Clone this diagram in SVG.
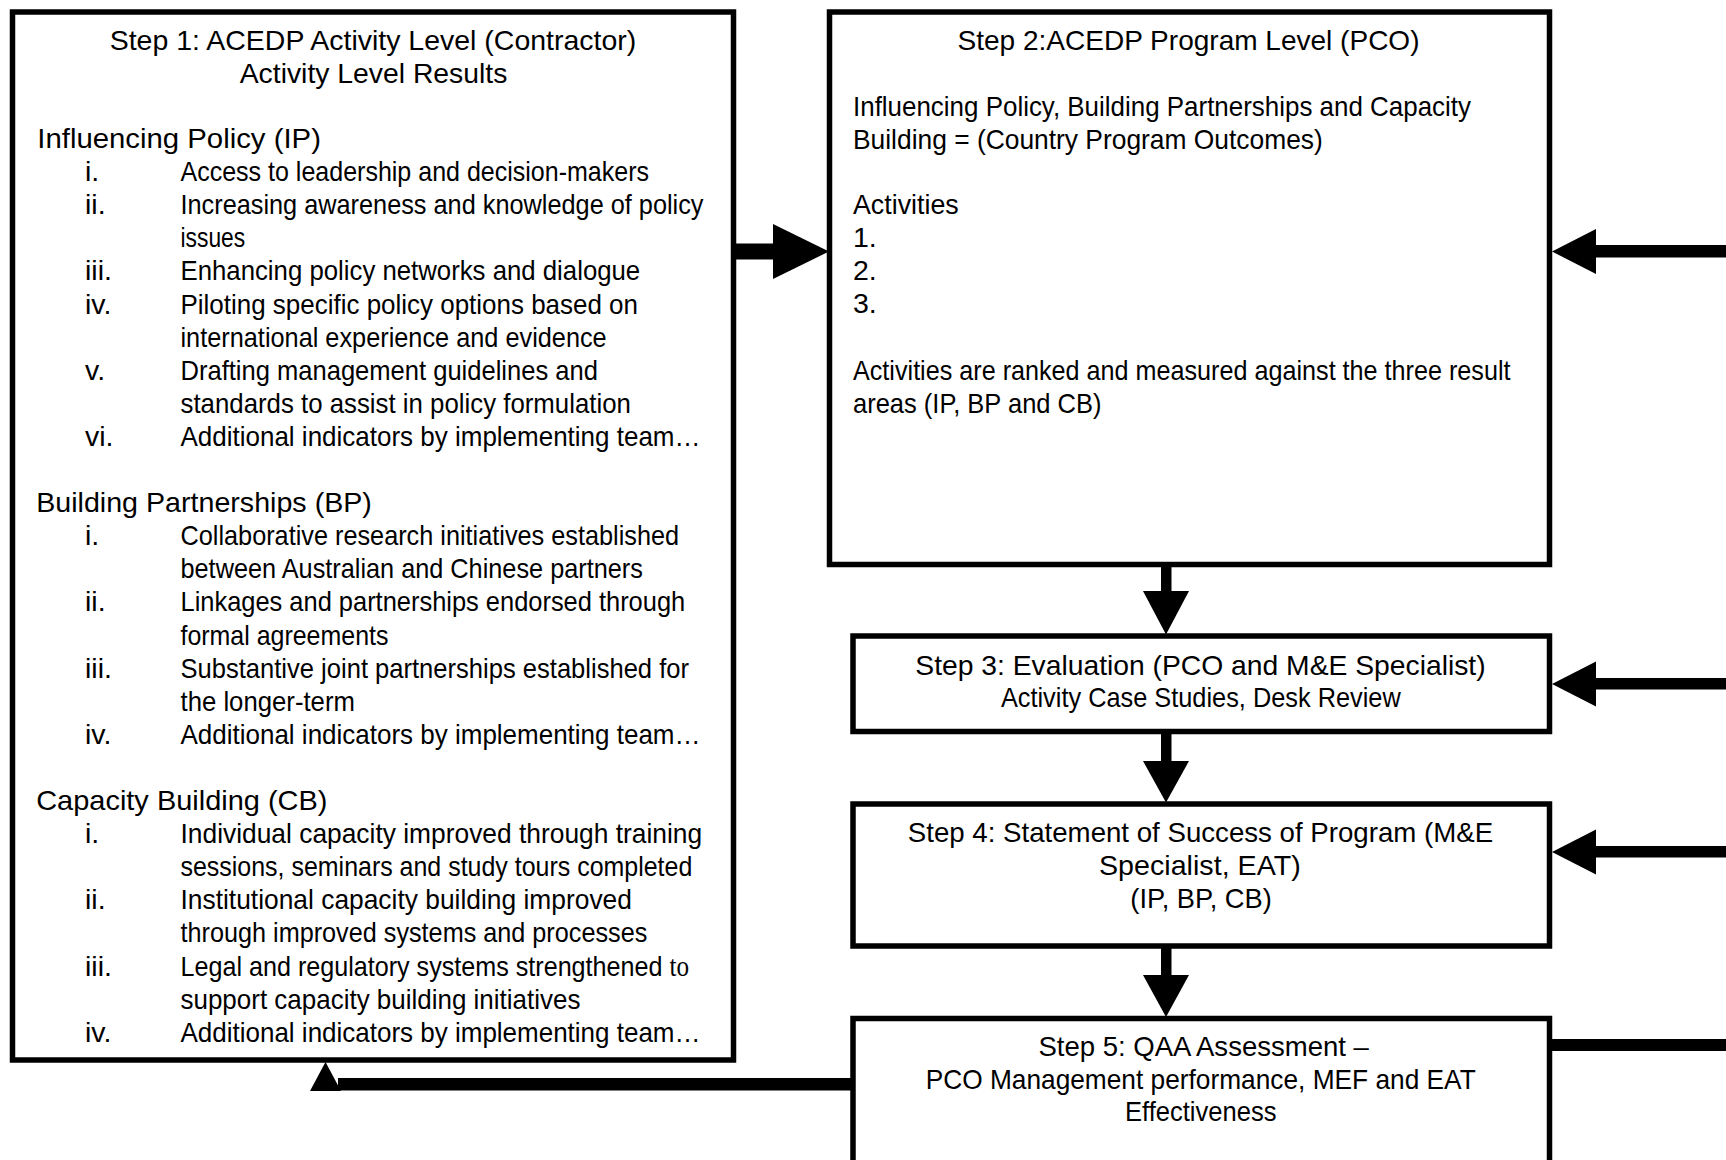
<svg xmlns="http://www.w3.org/2000/svg" width="1726" height="1160" viewBox="0 0 1726 1160">
<style>
  .box { fill: #ffffff; stroke: #000000; stroke-width: 5.5; }
  .t { font-family: "Liberation Sans Narrow", "Liberation Sans", Arial, sans-serif; font-size: 28.5px; fill: #000000; }
  .serif { font-family: "Liberation Serif", "Times New Roman", serif; }
  .ink { fill: #000000; stroke: none; }
</style>
<rect x="0" y="0" width="1726" height="1160" fill="#ffffff"/>

<g id="connectors">
  <!-- Step 1 -> Step 2 -->
  <rect class="ink" x="736" y="243.5" width="38" height="16"/>
  <polygon class="ink" points="773,224 773,279 829,251.5"/>
  <!-- right side -> Step 2 -->
  <rect class="ink" x="1595" y="245" width="131" height="12.5"/>
  <polygon class="ink" points="1596,229 1596,274 1552,251.5"/>
  <!-- right side -> Step 3 -->
  <rect class="ink" x="1595" y="678" width="131" height="11.5"/>
  <polygon class="ink" points="1596,661.5 1596,706.5 1552,684"/>
  <!-- right side -> Step 4 -->
  <rect class="ink" x="1595" y="846" width="131" height="11.5"/>
  <polygon class="ink" points="1596,829.5 1596,874.5 1552,852"/>
  <!-- Step 5 -> right side -->
  <rect class="ink" x="1550" y="1039" width="176" height="12"/>
  <!-- Step 2 -> Step 3 -->
  <rect class="ink" x="1161" y="566" width="10.5" height="26"/>
  <polygon class="ink" points="1143,591 1189,591 1166,634.5"/>
  <!-- Step 3 -> Step 4 -->
  <rect class="ink" x="1161" y="733" width="10.5" height="29"/>
  <polygon class="ink" points="1143,761 1189,761 1166,802.5"/>
  <!-- Step 4 -> Step 5 -->
  <rect class="ink" x="1161" y="947" width="10.5" height="29"/>
  <polygon class="ink" points="1143,975 1189,975 1166,1017"/>
  <!-- Step 5 -> Step 1 (return) -->
  <rect class="ink" x="338" y="1078" width="514" height="12.5"/>
  <polygon class="ink" points="310,1091 341,1091 325.5,1062"/>
</g>

<g id="step1">
  <rect class="box" x="12.5" y="12" width="721" height="1048"/>
  <text class="t" x="109.7" y="50" textLength="526.6" lengthAdjust="spacingAndGlyphs">Step 1: ACEDP Activity Level (Contractor)</text>
  <text class="t" x="239.7" y="83" textLength="267.7" lengthAdjust="spacingAndGlyphs">Activity Level Results</text>

  <text class="t" x="37.3" y="148" textLength="283.6" lengthAdjust="spacingAndGlyphs">Influencing Policy (IP)</text>
  <text class="t" x="85" y="181.1">i.</text>
  <text class="t" x="180.5" y="181.1" textLength="468.5" lengthAdjust="spacingAndGlyphs">Access to leadership and decision-makers</text>
  <text class="t" x="85" y="214.2">ii.</text>
  <text class="t" x="180.5" y="214.2" textLength="523" lengthAdjust="spacingAndGlyphs">Increasing awareness and knowledge of policy</text>
  <text class="t" x="180.5" y="247.3" textLength="64.7" lengthAdjust="spacingAndGlyphs">issues</text>
  <text class="t" x="85" y="280.4">iii.</text>
  <text class="t" x="180.5" y="280.4" textLength="459.7" lengthAdjust="spacingAndGlyphs">Enhancing policy networks and dialogue</text>
  <text class="t" x="85" y="313.5">iv.</text>
  <text class="t" x="180.5" y="313.5" textLength="457.5" lengthAdjust="spacingAndGlyphs">Piloting specific policy options based on</text>
  <text class="t" x="180.5" y="346.6" textLength="426.2" lengthAdjust="spacingAndGlyphs">international experience and evidence</text>
  <text class="t" x="85" y="379.7">v.</text>
  <text class="t" x="180.5" y="379.7" textLength="417.4" lengthAdjust="spacingAndGlyphs">Drafting management guidelines and</text>
  <text class="t" x="180.5" y="412.8" textLength="450.4" lengthAdjust="spacingAndGlyphs">standards to assist in policy formulation</text>
  <text class="t" x="85" y="445.9">vi.</text>
  <text class="t" x="180.5" y="445.9" textLength="520" lengthAdjust="spacingAndGlyphs">Additional indicators by implementing team…</text>

  <text class="t" x="36.2" y="512.1" textLength="335.7" lengthAdjust="spacingAndGlyphs">Building Partnerships (BP)</text>
  <text class="t" x="85" y="545.2">i.</text>
  <text class="t" x="180.5" y="545.2" textLength="498.6" lengthAdjust="spacingAndGlyphs">Collaborative research initiatives established</text>
  <text class="t" x="180.5" y="578.3" textLength="462.4" lengthAdjust="spacingAndGlyphs">between Australian and Chinese partners</text>
  <text class="t" x="85" y="611.4">ii.</text>
  <text class="t" x="180.5" y="611.4" textLength="504.7" lengthAdjust="spacingAndGlyphs">Linkages and partnerships endorsed through</text>
  <text class="t" x="180.5" y="644.5" textLength="207.9" lengthAdjust="spacingAndGlyphs">formal agreements</text>
  <text class="t" x="85" y="677.6">iii.</text>
  <text class="t" x="180.5" y="677.6" textLength="508.5" lengthAdjust="spacingAndGlyphs">Substantive joint partnerships established for</text>
  <text class="t" x="180.5" y="710.7" textLength="174.4" lengthAdjust="spacingAndGlyphs">the longer-term</text>
  <text class="t" x="85" y="743.8">iv.</text>
  <text class="t" x="180.5" y="743.8" textLength="520" lengthAdjust="spacingAndGlyphs">Additional indicators by implementing team…</text>

  <text class="t" x="36.2" y="810" textLength="291.3" lengthAdjust="spacingAndGlyphs">Capacity Building (CB)</text>
  <text class="t" x="85" y="843.1">i.</text>
  <text class="t" x="180.5" y="843.1" textLength="521.7" lengthAdjust="spacingAndGlyphs">Individual capacity improved through training</text>
  <text class="t" x="180.5" y="876.2" textLength="511.8" lengthAdjust="spacingAndGlyphs">sessions, seminars and study tours completed</text>
  <text class="t" x="85" y="909.3">ii.</text>
  <text class="t" x="180.5" y="909.3" textLength="451.4" lengthAdjust="spacingAndGlyphs">Institutional capacity building improved</text>
  <text class="t" x="180.5" y="942.4" textLength="466.8" lengthAdjust="spacingAndGlyphs">through improved systems and processes</text>
  <text class="t" x="85" y="975.5">iii.</text>
  <text class="t" x="180.5" y="975.5" textLength="508.5" lengthAdjust="spacingAndGlyphs">Legal and regulatory systems strengthened <tspan class="serif">to</tspan></text>
  <text class="t" x="180.5" y="1008.6" textLength="399.9" lengthAdjust="spacingAndGlyphs">support capacity building initiatives</text>
  <text class="t" x="85" y="1041.7">iv.</text>
  <text class="t" x="180.5" y="1041.7" textLength="520" lengthAdjust="spacingAndGlyphs">Additional indicators by implementing team…</text>
</g>

<g id="step2">
  <rect class="box" x="829.5" y="12" width="720" height="552.5"/>
  <text class="t" x="957.5" y="50" textLength="462" lengthAdjust="spacingAndGlyphs">Step 2:ACEDP Program Level (PCO)</text>
  <text class="t" x="853" y="116" textLength="618" lengthAdjust="spacingAndGlyphs">Influencing Policy, Building Partnerships and Capacity</text>
  <text class="t" x="853" y="149" textLength="469.8" lengthAdjust="spacingAndGlyphs">Building = (Country Program Outcomes)</text>
  <text class="t" x="853" y="214" textLength="105.7" lengthAdjust="spacingAndGlyphs">Activities</text>
  <text class="t" x="853" y="247">1.</text>
  <text class="t" x="853" y="280">2.</text>
  <text class="t" x="853" y="313">3.</text>
  <text class="t" x="853" y="379.5" textLength="657.5" lengthAdjust="spacingAndGlyphs">Activities are ranked and measured against the three result</text>
  <text class="t" x="853" y="412.5" textLength="248.5" lengthAdjust="spacingAndGlyphs">areas (IP, BP and CB)</text>
</g>

<g id="step3">
  <rect class="box" x="853" y="636" width="696.5" height="95.5"/>
  <text class="t" x="915.3" y="674.5" textLength="570.3" lengthAdjust="spacingAndGlyphs">Step 3: Evaluation (PCO and M&amp;E Specialist)</text>
  <text class="t" x="1000.9" y="707" textLength="399.8" lengthAdjust="spacingAndGlyphs">Activity Case Studies, Desk Review</text>
</g>

<g id="step4">
  <rect class="box" x="853" y="804" width="696.5" height="142"/>
  <text class="t" x="907.8" y="842.2" textLength="585.3" lengthAdjust="spacingAndGlyphs">Step 4: Statement of Success of Program (M&amp;E</text>
  <text class="t" x="1099" y="875.2" textLength="201.7" lengthAdjust="spacingAndGlyphs">Specialist, EAT)</text>
  <text class="t" x="1130.3" y="908.2" textLength="141.5" lengthAdjust="spacingAndGlyphs">(IP, BP, CB)</text>
</g>

<g id="step5">
  <rect class="box" x="853" y="1018.5" width="696.5" height="146"/>
  <text class="t" x="1038.4" y="1056" textLength="330.5" lengthAdjust="spacingAndGlyphs">Step 5: QAA Assessment –</text>
  <text class="t" x="925.7" y="1088.5" textLength="550" lengthAdjust="spacingAndGlyphs">PCO Management performance, MEF and EAT</text>
  <text class="t" x="1125" y="1121" textLength="151.5" lengthAdjust="spacingAndGlyphs">Effectiveness</text>
</g>
</svg>
